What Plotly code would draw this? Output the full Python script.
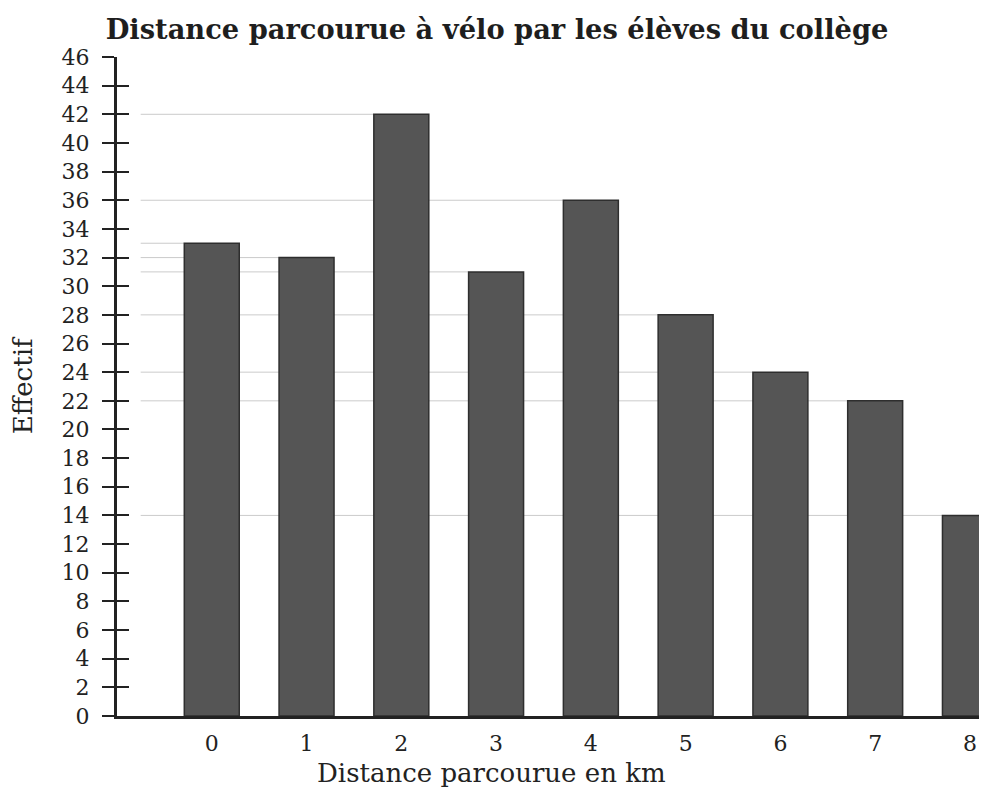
import plotly.graph_objects as go

categories = ["0", "1", "2", "3", "4", "5", "6", "7", "8"]
effectifs = [33, 32, 42, 31, 36, 28, 24, 22, 14]
y_ticks = list(range(0, 47, 2))

FONT = "DejaVu Serif"
xpos = list(range(len(categories)))

fig = go.Figure()
fig.add_trace(go.Bar(
    x=xpos, y=effectifs, width=0.58,
    marker=dict(color="#555555", line=dict(color="#2e2e2e", width=1.5)),
    showlegend=False,
))

# faint reading lines from the axis to each bar top
for xi, v in zip(xpos, effectifs):
    fig.add_shape(type="line", xref="x", yref="y",
                  x0=-0.75, x1=xi - 0.29, y0=v, y1=v,
                  line=dict(color="rgba(160,160,160,0.55)", width=1), layer="below")

# extend y axis slightly below zero
fig.add_shape(type="line", xref="x", yref="y", x0=-1, x1=-1, y0=-0.9, y1=0,
              line=dict(color="#222", width=3))

fig.update_layout(
    width=979, height=783,
    margin=dict(l=109, r=0, t=49, b=75),
    paper_bgcolor="white", plot_bgcolor="white",
    font=dict(family=FONT, color="#222", size=22),
    title=dict(text="<b>Distance parcourue à vélo par les élèves du collège</b>",
               x=0.4995, xref="container", xanchor="center",
               y=0.972, yref="container", yanchor="middle",
               font=dict(family=FONT, size=27.3, color="#1e1e1e")),
    xaxis=dict(range=[-1.0, 8.18], tickvals=xpos, ticktext=categories,
               showline=True, linecolor="#222", linewidth=3,
               ticks="", showgrid=False, zeroline=False,
               tickfont=dict(size=22), ticklabelstandoff=6),
    yaxis=dict(range=[0, 46], tickvals=y_ticks,
               showline=True, linecolor="#222", linewidth=3,
               ticks="outside", ticklen=12, tickwidth=2, tickcolor="#222",
               showgrid=False, zeroline=False, tickfont=dict(size=22),
               ticklabelstandoff=8),
    yaxis2=dict(range=[0, 46], overlaying="y", side="left", tickvals=y_ticks,
                ticks="inside", ticklen=12, tickwidth=2, tickcolor="#222",
                showticklabels=False, showgrid=False, zeroline=False, showline=False),
    annotations=[
        dict(text="Distance parcourue en km", xref="paper", yref="paper",
             x=0.43, y=-0.087, xanchor="center", yanchor="middle",
             showarrow=False, font=dict(family=FONT, size=26, color="#222")),
        dict(text="Effectif", xref="paper", yref="paper",
             x=-0.108, y=0.502, xanchor="center", yanchor="middle", textangle=-90,
             showarrow=False, font=dict(family=FONT, size=26, color="#222")),
    ],
)
fig.add_trace(go.Scatter(x=[None], y=[None], yaxis="y2", showlegend=False))

fig.write_html("out.html")
